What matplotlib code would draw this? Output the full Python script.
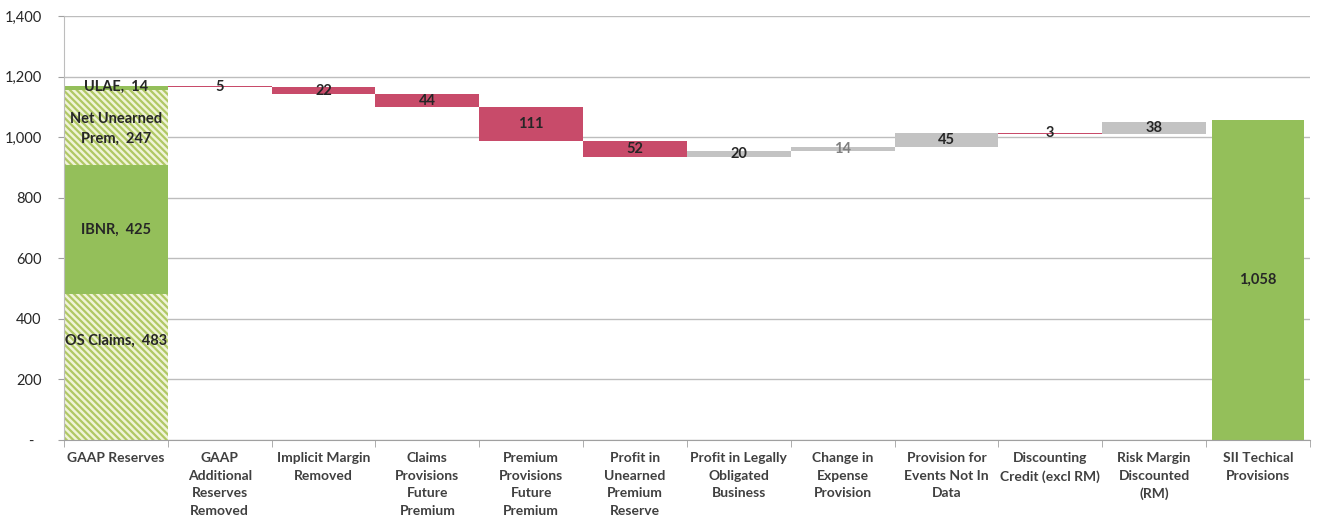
import matplotlib
matplotlib.use("Agg")
import matplotlib.pyplot as plt
import numpy as np

plt.rcParams['font.family'] = ['Lato', 'DejaVu Sans']
plt.rcParams['hatch.linewidth'] = 1.6

categories = ["GAAP Reserves",
              "GAAP\nAdditional\nReserves\nRemoved",
              "Implicit Margin\nRemoved",
              "Claims\nProvisions\nFuture\nPremium",
              "Premium\nProvisions\nFuture\nPremium",
              "Profit in\nUnearned\nPremium\nReserve",
              "Profit in Legally\nObligated\nBusiness",
              "Change in\nExpense\nProvision",
              "Provision for\nEvents Not In\nData",
              "Discounting\nCredit (excl RM)",
              "Risk Margin\nDiscounted\n(RM)",
              "SII Techical\nProvisions"]

gaap_parts = ["OS Claims", "IBNR", "Net Unearned\nPrem", "ULAE"]
gaap_values = [483, 425, 247, 14]

step_values = [-5, -22, -44, -111, -52, 20, 14, 45, -3, 38]
final_value = 1058

yticks = [0, 200, 400, 600, 800, 1000, 1200, 1400]
ytick_labels = ["-  ", "200", "400", "600", "800", "1,000", "1,200", "1,400"]

GREEN = "#94BF5A"
HATCH_FACE = "#F0F4D8"
HATCH_EDGE = "#B0C864"
RED = "#C84B6A"
GREY = "#C3C3C3"
TEXT = "#262626"

fig = plt.figure(figsize=(13.19, 5.25), dpi=100)
ax = fig.add_axes([0.0485, 0.162, 0.9445, 0.8075])

# GAAP stacked bar
bottom = 0
styles = ["hatch", "solid", "hatch", "solid"]
for name, v, st in zip(gaap_parts, gaap_values, styles):
    if st == "hatch":
        ax.bar(0, v, bottom=bottom, width=1.0, color=HATCH_FACE, edgecolor=HATCH_EDGE,
               hatch='\\\\\\\\\\', linewidth=0, zorder=2)
    else:
        ax.bar(0, v, bottom=bottom, width=1.0, color=GREEN, linewidth=0, zorder=2)
    bottom += v
# labels on stacked bar
cum = np.cumsum([0] + gaap_values)
label_y = [cum[0] + gaap_values[0] * 0.68,
           cum[1] + gaap_values[1] / 2,
           cum[2] + gaap_values[2] / 2 - 5,
           cum[3] + gaap_values[3] / 2 + 4]
for name, v, yy in zip(gaap_parts, gaap_values, label_y):
    ax.text(0, yy, f"{name},  {v}", ha='center', va='center', fontsize=10.5,
            fontweight='bold', color=TEXT, zorder=5, linespacing=1.5)

# waterfall steps
level = sum(gaap_values)
for i, d in enumerate(step_values, start=1):
    lo = level + min(d, 0)
    color = RED if d < 0 else GREY
    ax.bar(i, abs(d), bottom=lo, width=1.0, color=color, linewidth=0, zorder=2)
    lc = "#7F7F7F" if i == 7 else TEXT
    ax.text(i, lo + abs(d) / 2, f"{abs(d):,}", ha='center', va='center', fontsize=10.5,
            fontweight='bold', color=lc, zorder=5)
    level += d

# final bar
n = len(categories)
ax.bar(n - 1, final_value, width=0.88, color=GREEN, linewidth=0, zorder=2)
ax.text(n - 1, final_value / 2, f"{final_value:,}", ha='center', va='center',
        fontsize=10.5, fontweight='bold', color=TEXT, zorder=5)

ax.set_xlim(-0.5, n - 0.5)
ax.set_ylim(0, 1400)
ax.set_yticks(yticks)
ax.set_yticklabels(ytick_labels, fontsize=10.5, color=TEXT)
ax.yaxis.grid(True, color="#BDBDBD", linewidth=1.0, zorder=0)
ax.set_axisbelow(True)

ax.set_xticks(np.arange(n))
ax.set_xticklabels(categories, fontsize=10, fontweight='bold', color="#404040",
                   linespacing=1.55, va='top')
ax.tick_params(axis='x', length=0, pad=9)
ax.set_xticks(np.arange(n + 1) - 0.5, minor=True)
ax.tick_params(axis='x', which='minor', length=5, color="#A0A0A0", direction='out')
ax.tick_params(axis='y', length=4, color="#A0A0A0", pad=12)

for s in ["top", "right"]:
    ax.spines[s].set_visible(False)
ax.spines["left"].set_color("#BDBDBD")
ax.spines["bottom"].set_color("#A0A0A0")

fig.savefig("out.png", dpi=100)
